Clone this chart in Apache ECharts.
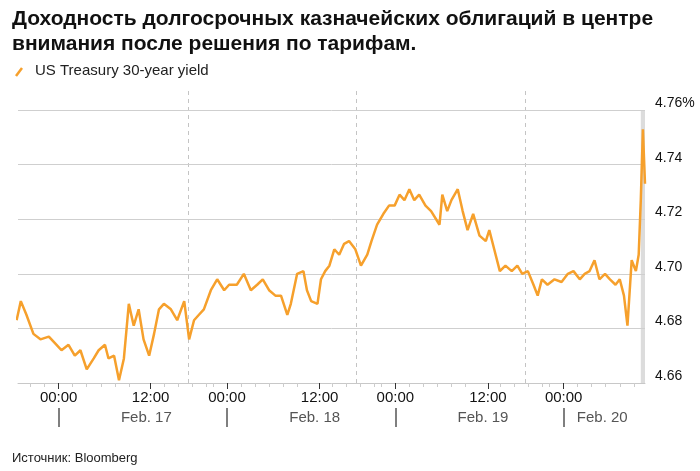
<!DOCTYPE html>
<html lang="ru">
<head>
<meta charset="UTF-8">
<title>US Treasury 30-year yield</title>
<script src="https://cdn.jsdelivr.net/npm/echarts@6/dist/echarts.min.js"></script>
<style>html,body{margin:0;padding:0;background:#fff;}</style>
</head>
<body>
<div id="main" style="width:700px;height:471px;"></div>
<script>
// hours since 00:00 Feb. 17
var hours = [-6,-5.4,-4.6,-3.6,-2.6,-1.4,-0.3,0.4,1.4,2.3,3.1,4,5,5.7,6.6,7.1,7.9,8.6,9.3,10,10.7,11.4,12.1,12.9,13.6,14.3,15,16,16.9,17.9,18.6,19.3,20,20.7,21.7,22.6,23.6,24.3,25.4,26.4,27.4,28.3,29.1,30,30.9,31.7,32.6,33.1,34,34.9,35.4,36,36.9,37.4,38,38.6,39.3,40,40.7,41.4,42.3,43.1,44,44.6,45.4,46.3,47.1,47.9,48.6,49.3,50,50.7,51.4,52.3,53.1,54.3,54.7,55.4,56,56.9,57.6,58.3,59.1,60,60.9,61.4,62.1,62.9,63.7,64.6,65.4,66.1,66.9,67.7,68.3,68.9,69.7,70.7,71.7,72.6,73.4,74.3,75,75.7,76.4,77.1,77.9,78.6,79.4,80,80.6,81.1,81.7,82.3,82.7,83,83.3,83.6];
var yields = [4.683,4.690,4.685,4.678,4.676,4.677,4.674,4.672,4.674,4.670,4.672,4.665,4.669,4.672,4.674,4.669,4.670,4.661,4.669,4.689,4.681,4.687,4.676,4.670,4.678,4.687,4.689,4.687,4.683,4.690,4.676,4.683,4.685,4.687,4.694,4.698,4.694,4.696,4.696,4.700,4.694,4.696,4.698,4.694,4.692,4.692,4.685,4.689,4.700,4.701,4.694,4.690,4.689,4.698,4.701,4.703,4.709,4.707,4.711,4.712,4.709,4.703,4.707,4.712,4.718,4.722,4.725,4.725,4.729,4.727,4.731,4.727,4.729,4.725,4.723,4.718,4.729,4.723,4.727,4.731,4.723,4.716,4.722,4.714,4.712,4.716,4.709,4.701,4.703,4.701,4.703,4.700,4.701,4.696,4.692,4.698,4.696,4.698,4.697,4.700,4.701,4.698,4.700,4.701,4.705,4.698,4.700,4.698,4.696,4.698,4.692,4.681,4.705,4.701,4.707,4.727,4.753,4.733];

var timeTicks = [0, 13.1, 24, 37.2, 48, 61.2, 72];
var timeLabels = ['00:00', '12:00', '00:00', '12:00', '00:00', '12:00', '00:00'];
var minorTicks = [-4, -2, 2, 4, 6, 8, 10, 15, 17, 19, 21, 22, 26, 28, 30, 32, 34, 39, 41, 43, 45, 46, 50, 52, 54, 56, 58, 63, 65, 67, 69, 70, 74, 76, 78, 80, 82];
var dayTicks = [0, 24, 48, 72];
var dayLabelPos = [12.5, 36.5, 60.5, 77.5];
var dayLabels = ['Feb. 17', 'Feb. 18', 'Feb. 19', 'Feb. 20'];
var sessionBreaks = [18.5, 42.5, 66.5];
var yTicks = [4.66, 4.68, 4.70, 4.72, 4.74, 4.76];

var FONT = '"Liberation Sans", Arial, sans-serif';
var ORANGE = '#f6a02c';

var chart = echarts.init(document.getElementById('main'));

function fmtTime(v) {
    var i = timeTicks.indexOf(v);
    return i >= 0 ? timeLabels[i] : '';
}
function fmtDay(v) {
    var i = dayLabelPos.indexOf(v);
    return i >= 0 ? dayLabels[i] : '';
}

var xBase = {type: 'value', min: -5.8, max: 83.6, splitLine: {show: false}};

chart.setOption({
    animation: false,
    textStyle: {fontFamily: FONT},
    grid: {left: 18, right: 55, top: 91, bottom: 88},
    graphic: [
        {type: 'text', left: 12, top: 7, style: {text: 'Доходность долгосрочных казначейских облигаций в центре\nвнимания после решения по тарифам.', font: 'bold 21px ' + FONT, fill: '#111', lineHeight: 25}},
        {type: 'line', shape: {x1: 16, y1: 76, x2: 22, y2: 68}, style: {stroke: ORANGE, lineWidth: 2.5}},
        {type: 'text', left: 35, top: 63, style: {text: 'US Treasury 30-year yield', font: '15px ' + FONT, fill: '#222'}},
        {type: 'text', left: 12, top: 452, style: {text: 'Источник: Bloomberg', font: '13px ' + FONT, fill: '#222'}}
    ],
    xAxis: [
        Object.assign({}, xBase, {
            position: 'bottom',
            axisLine: {show: true, lineStyle: {color: '#c8c8c8'}},
            axisTick: {show: true, customValues: timeTicks, length: 6, lineStyle: {color: '#333'}},
            axisLabel: {customValues: timeTicks, formatter: fmtTime, color: '#111', fontSize: 15, margin: 7}
        }),
        Object.assign({}, xBase, {
            position: 'bottom',
            axisLine: {show: false},
            axisTick: {show: true, customValues: minorTicks, length: 4, lineStyle: {color: '#ccc'}},
            axisLabel: {show: false}
        }),
        Object.assign({}, xBase, {
            position: 'bottom', offset: 25,
            axisLine: {show: false},
            axisTick: {show: true, customValues: dayTicks, length: 19, lineStyle: {color: '#555', width: 1.5}},
            axisLabel: {customValues: dayLabelPos, formatter: fmtDay, color: '#555', fontSize: 15, margin: 2}
        })
    ],
    yAxis: {
        type: 'value', position: 'right', min: 4.66, max: 4.767,
        splitLine: {show: false}, axisLine: {show: false}, axisTick: {show: false},
        axisLabel: {
            customValues: yTicks, color: '#111', fontSize: 14, margin: 10, verticalAlign: 'bottom',
            formatter: function (v) { return v >= 4.759 ? v.toFixed(2) + '%' : v.toFixed(2); }
        }
    },
    series: [{
        type: 'line',
        data: hours.map(function (h, i) { return [h, yields[i]]; }),
        showSymbol: false,
        lineStyle: {color: ORANGE, width: 2.5},
        z: 5,
        markLine: {
            silent: true, symbol: 'none', label: {show: false},
            data: sessionBreaks.map(function (x) { return {xAxis: x, lineStyle: {type: [4, 4], color: '#c4c4c4', width: 1}}; })
                .concat(yTicks.slice(1).map(function (y) { return {yAxis: y, lineStyle: {type: 'solid', color: '#cfcfcf', width: 1}}; }))
        },
        markArea: {
            silent: true,
            itemStyle: {color: '#dcdcdc'},
            data: [[{xAxis: 83.0, yAxis: 4.66}, {xAxis: 83.6, yAxis: 4.76}]]
        }
    }]
});
</script>
</body>
</html>
